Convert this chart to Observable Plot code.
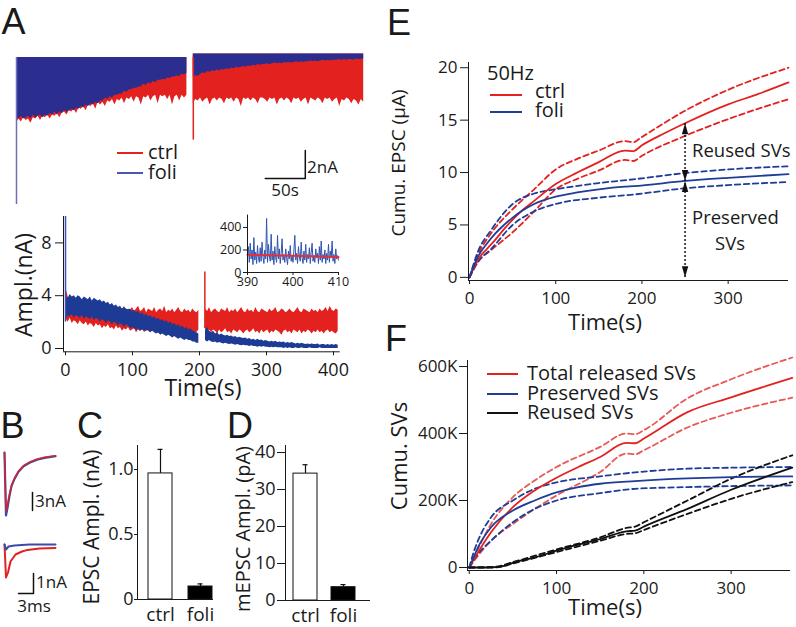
<!DOCTYPE html>
<html><head><meta charset="utf-8">
<script src="https://cdn.jsdelivr.net/npm/d3@7"></script>
<script src="https://cdn.jsdelivr.net/npm/@observablehq/plot@0.6"></script>
<style>
body{margin:0;background:#fff;}
#fig{position:relative;width:796px;height:627px;overflow:hidden;font-family:"Open Sans",sans-serif;color:#1a1a1a;background:#fff;}
.t{position:absolute;white-space:nowrap;line-height:0.8;}
</style></head><body><div id="fig"></div>
<script>
// ---------------- DATA ----------------
// Panel A (top): raw trace lower envelope (nA, downward); sampled every 3 s from the segment start
const aTopSeg1Start = 0, aTopSeg2Start = 221, aTopStep = 3;
const aTopCtrl1 = [4.7,4.4,4.6,4.3,4.5,4.4,4.7,4.3,4.4,4.2,4.5,4.2, 4.3,4.1,4.4,4.1,4.2,4.0,4.3,4.0,3.9,4.1,3.8,3.9, 3.7,4.0,3.6,3.7,3.5,3.8,3.4,3.5,3.3,3.7,3.2,3.4, 3.2,3.5,3.1,3.2,3.0,3.4,3.0,3.1,2.9,3.3,2.9,3.0, 2.8,3.2,2.8,2.9,3.4,2.8,2.9,2.7,3.1,2.8,2.7,3.3, 2.7,2.8,2.7,3.0,2.7,3.4,2.8,2.7,3.1,2.7,2.9,2.7];
const aTopCtrl2 = [3.3,3.0,3.1,2.9,3.2,3.0,2.9,3.4,3.0,2.9,3.1,2.9, 3.0,3.3,2.9,3.0,2.9,3.2,2.9,3.0,3.5,2.9,3.0,2.9, 3.1,2.9,3.0,3.3,2.9,2.9,3.0,3.2,2.9,3.0,2.9,3.4, 3.0,2.9,3.1,2.9,3.0,3.3,2.9,3.0,2.9,3.2,3.0,2.9, 3.4,2.9,3.0,3.1,2.9,3.0,3.3,2.9,3.0,2.9,3.2,3.0, 2.9,3.5,3.0,3.1,2.9,3.0,3.3,3.0,3.1,3.4,3.0,3.2];
const aTopFoli1 = [4.3,4.4,4.2,4.4,4.3,4.2,4.4,4.1,4.3,4.2,4.1,4.3, 4.1,4.2,4.0,4.1,3.9,4.1,3.9,4.0,3.8,3.9,3.8,3.7, 3.8,3.6,3.7,3.5,3.6,3.4,3.5,3.3,3.4,3.2,3.3,3.1, 3.1,2.9,3.0,2.8,2.9,2.7,2.7,2.6,2.6,2.4,2.5,2.3, 2.3,2.2,2.2,2.1,2.1,1.9,2.0,1.8,1.9,1.7,1.8,1.6, 1.65,1.55,1.6,1.45,1.5,1.4,1.4,1.3,1.35,1.2,1.25,1.15];
const aTopFoli2 = [1.4,1.3,1.35,1.2,1.1,1.15,1.0,1.05,0.95,1.0,0.9,0.95, 0.85,0.9,0.8,0.85,0.75,0.8,0.7,0.75,0.7,0.65,0.7,0.6, 0.65,0.55,0.6,0.5,0.55,0.5,0.5,0.45,0.5,0.45,0.4,0.45, 0.4,0.45,0.35,0.4,0.35,0.4,0.35,0.3,0.35,0.3,0.35,0.3, 0.3,0.25,0.3,0.25,0.3,0.25,0.2,0.25,0.2,0.25,0.2,0.2, 0.2,0.15,0.2,0.15,0.2,0.15,0.15,0.2,0.1,0.15,0.15,0.1];
const aTopBaseline = [0, 0.25];            // segment 1, segment 2
const aTopSpikes = [{t:0, amp:10.5, cond:"foli"}, {t:221, amp:5.9, cond:"ctrl"}];
const aScaleBar = {t0:311, dt:50, i0:-8.64, di:2};

// Panel A (bottom): amplitude band edges (nA), sampled every 3 s from the segment start
const ampSeg1Start = 1, ampSeg2Start = 209, ampStep = 3;
const ctrlLo1 = [2.2,2.0,2.3,1.9,2.1,2.0,1.8,2.1,1.9,1.8,2.0,1.7,1.9,1.8,1.6,1.9,1.7,1.8,1.5,1.7, 1.6,1.8,1.5,1.6,1.4,1.7,1.5,1.6,1.3,1.5,1.4,1.6,1.3,1.4,1.5,1.2,1.4,1.3,1.5,1.2, 1.4,1.3,1.2,1.5,1.3,1.4,1.1,1.3,1.4,1.2,1.3,1.5,1.2,1.3,1.1,1.4,1.3,1.2,1.4,1.3, 1.1,1.3,1.4,1.2,1.3,1.2,1.4];
const ctrlHi1 = [4.5,3.9,3.7,3.8,3.5,3.6,3.4,3.7,3.3,3.5,3.4,3.2,3.5,3.3,3.1,3.4,3.2,3.0,3.3,3.1, 3.2,2.9,3.1,3.0,3.2,2.8,3.0,3.1,2.9,3.2,2.8,3.0,2.9,3.1,2.8,3.0,3.2,2.8,2.9,3.1, 2.7,3.0,2.9,2.8,3.1,2.7,2.9,3.0,2.8,3.2,2.7,2.9,2.8,3.0,2.7,2.9,3.1,2.8,2.7,3.0, 2.8,2.9,2.7,3.0,2.8,2.7,2.9];
const ctrlLo2 = [1.5,1.3,1.4,1.2,1.4,1.3,1.1,1.4,1.2,1.3,1.5,1.2,1.3,1.1,1.4,1.3,1.2,1.4,1.3,1.1, 1.3,1.4,1.2,1.3,1.5,1.2,1.3,1.1,1.4,1.2,1.3,1.4,1.1,1.3,1.2,1.4,1.3,1.2,1.0,1.3, 1.4,1.2,1.3,1.1,1.4,1.3,1.2,1.4,1.1,1.3,1.2,1.4,1.3,1.1,1.3,1.2,1.4,1.2,1.3,1.1, 1.3,1.4,1.2,1.3,1.2,1.1,1.3];
const ctrlHi2 = [3.0,2.8,3.1,2.7,2.9,3.0,2.8,2.7,3.0,2.9,2.8,3.1,2.7,2.9,2.8,3.0,2.7,2.9,3.1,2.8, 2.7,3.0,2.8,2.9,2.7,3.1,2.8,2.7,3.0,2.9,2.8,2.7,3.0,2.8,2.9,3.1,2.7,2.8,3.0,2.9, 2.7,2.8,3.0,2.8,2.7,2.9,3.1,2.8,2.7,3.0,2.9,2.8,2.7,3.0,2.8,2.9,2.7,3.0,2.8,2.9, 3.1,2.8,3.2,2.9,2.8,3.0,2.9];
const foliLo1 = [2.2,2.5,2.4,2.6,2.3,2.5,2.4,2.3,2.5,2.2,2.4,2.3,2.2,2.4,2.1,2.3,2.2,2.0,2.2,2.1, 1.9,2.1,2.0,1.8,2.0,1.9,1.7,1.9,1.8,1.6,1.8,1.7,1.5,1.6,1.5,1.4,1.5,1.3,1.4,1.3, 1.3,1.4,1.2,1.3,1.2,1.1,1.2,1.0,1.1,1.0,0.9,1.0,0.9,0.8,0.9,0.8,0.7,0.8,0.7,0.6, 0.7,0.6,0.6,0.5,0.5,0.4,0.4];
const foliHi1 = [3.9,3.8,4.1,3.9,4.0,3.8,4.0,3.9,3.7,3.9,3.8,3.7,3.9,3.6,3.8,3.7,3.6,3.7,3.5,3.6, 3.4,3.5,3.3,3.4,3.2,3.3,3.1,3.2,3.0,3.1,3.0,2.9,3.0,2.8,2.9,2.7,2.8,2.6,2.7,2.5, 2.6,2.4,2.5,2.3,2.4,2.2,2.3,2.1,2.2,2.0,2.1,1.9,2.0,1.8,1.9,1.7,1.8,1.6,1.7,1.5, 1.6,1.4,1.5,1.3,1.3,1.2,1.1];
const foliLo2 = [0.6,0.5,0.6,0.5,0.45,0.5,0.4,0.45,0.4,0.35,0.4,0.35,0.3,0.35,0.3,0.25,0.3,0.25,0.2,0.25, 0.2,0.2,0.15,0.2,0.15,0.15,0.1,0.15,0.1,0.15,0.1,0.1,0.05,0.1,0.05,0.1,0.05,0.05,0.05,0.0, 0.05,0.0,0.05,0.0,0.0,0.05,0.0,0.0,0.05,0.0,0.0,0.0,0.05,0.0,0.0,0.0,0.0,0.05,0.0,0.0, 0.0,0.0,0.0,0.0,0.0,0.0,0.0];
const foliHi2 = [1.4,1.6,1.3,1.2,1.3,1.1,1.2,1.0,1.1,1.0,0.95,1.0,0.9,0.95,0.85,0.9,0.8,0.85,0.8,0.75, 0.8,0.7,0.75,0.65,0.7,0.6,0.7,0.6,0.65,0.55,0.6,0.55,0.5,0.55,0.5,0.55,0.45,0.5,0.45,0.5, 0.4,0.45,0.4,0.45,0.4,0.35,0.4,0.35,0.4,0.35,0.3,0.35,0.3,0.35,0.3,0.3,0.35,0.25,0.3,0.3, 0.25,0.3,0.25,0.3,0.25,0.3,0.25];
const ampSpikes = [{t:0, lo:2.0, hi:10, cond:"foli"}, {t:208, lo:1.5, hi:5.8, cond:"ctrl"}];

// Inset: 390–410 s (pA), evenly sampled
const insetFoli = [150,230,90,260,120,200,70,310,110,180,80,240,130,90,220,100,270,140,80,200,120,480,90,250,150,100,340,110,190,70,230,130,90,330,120,210,80,170,300,110,160,90,210,130,70,190,120,240,100,150,90,200,330,110,170,80,230,140,100,270,130,80,190,110,250,90,160,120,220,80,180,260,100,150,90,210,130,170,80,230,110,280,90,160,120,200,80,170,110,250,90,190,130,280,100,160,80,210,120,150,110];
const insetCtrl = [[390,158],[400,148],[410,138]];

// Panel B: EPSC traces [ms, nA]
const bTopFoli = [[0,0],[0.3,-10.5],[0.6,-9.2],[1.0,-7.2],[1.4,-5.6],[2.0,-4.4],[2.8,-3.2],[3.8,-2.3],[5,-1.7],[6.5,-1.2],[8,-0.9],[10.2,-0.6]];
const bTopCtrl = [[0,0],[0.3,-9.7],[0.6,-8.7],[1.0,-7.0],[1.4,-5.5],[2.0,-4.3],[2.8,-3.1],[3.8,-2.2],[5,-1.6],[6.5,-1.1],[8,-0.8],[10.2,-0.55]];
const bBotFoli = [[0,0],[0.3,-0.25],[0.8,-0.1],[2,-0.05],[5,0],[10.2,0]];
const bBotCtrl = [[0,0],[0.3,-1.65],[0.7,-1.4],[1.2,-0.85],[2.2,-0.5],[3.5,-0.35],[4.6,-0.27],[7,-0.2],[10.2,-0.17]];

// Panels C, D
const conds = ["ctrl", "foli"];
const epscMean = [0.97, 0.10];
const epscSem = [0.185, 0.02];
const mepscMean = [34.3, 3.6];
const mepscSem = [2.4, 0.7];

// Panel E: cumulative EPSC (µA) [s, value]
const eCtrl = [[0,0],[5,0.9],[10,1.7],[20,2.7],[30,3.6],[40,4.6],[50,5.5],[60,6.3],[75,7.3],[100,8.9],[125,10.0],[150,11.0],[180,12.1],[190,12.05],[200,12.6],[225,13.7],[250,14.7],[300,16.5],[335,17.5],[370,18.6]];
const eCtrlHi = [[0,0],[10,2.2],[25,4.2],[50,6.5],[75,8.4],[100,10.3],[125,11.3],[150,12.1],[180,13.0],[190,12.9],[200,13.4],[250,15.9],[300,17.9],[370,20.0]];
const eCtrlLo = [[0,0],[10,1.5],[25,2.6],[50,4.3],[75,6.3],[100,8.4],[125,9.4],[150,10.2],[180,11.2],[190,11.1],[200,11.6],[250,13.5],[300,15.1],[370,17.0]];
const eFoli = [[0,0],[5,1.1],[10,2.0],[20,3.2],[30,4.2],[40,5.0],[50,5.7],[60,6.3],[75,7.0],[100,7.7],[125,8.1],[150,8.4],[180,8.65],[190,8.7],[250,9.2],[300,9.5],[370,9.85]];
const eFoliHi = [[0,0],[10,2.5],[25,4.5],[50,7.0],[75,8.0],[100,8.4],[150,9.0],[190,9.35],[250,9.95],[300,10.3],[370,10.6]];
const eFoliLo = [[0,0],[10,1.5],[25,2.7],[50,5.0],[75,6.3],[100,7.0],[150,7.6],[190,7.9],[250,8.5],[300,8.8],[370,9.1]];
const eArrowT = 250;
const eArrowLevels = [14.7, 9.2, 0];

// Panel F: cumulative SVs (K) [s, value]
const fTotal = [[0,0],[10,45],[25,105],[50,180],[75,230],[100,268],[125,300],[150,330],[180,372],[190,371],[200,385],[250,464],[300,508],[370,566]];
const fTotalHi = [[0,0],[10,55],[25,130],[50,210],[75,260],[100,300],[150,360],[180,400],[190,398],[200,410],[250,505],[300,562],[370,627]];
const fTotalLo = [[0,0],[10,35],[25,80],[50,130],[75,175],[100,215],[150,285],[180,340],[190,338],[200,350],[250,418],[300,462],[370,507]];
const fPres = [[0,0],[5,30],[10,60],[25,120],[50,170],[75,200],[100,224],[125,240],[150,250],[190,258],[250,266],[300,270],[370,272]];
const fPresHi = [[0,0],[5,45],[10,80],[25,150],[50,200],[75,235],[100,254],[150,272],[190,284],[250,295],[300,298],[370,300]];
const fPresLo = [[0,0],[10,40],[25,80],[50,135],[75,175],[100,200],[150,222],[190,235],[250,240],[300,243],[370,245]];
const fReused = [[0,0],[20,0],[30,1],[40,5],[50,14],[75,30],[100,50],[125,68],[150,85],[180,108],[190,110],[200,122],[250,175],[300,232],[370,298]];
const fReusedHi = [[0,0],[30,2],[50,16],[100,54],[150,90],[180,118],[190,122],[200,135],[250,200],[300,265],[370,335]];
const fReusedLo = [[0,0],[30,0],[50,12],[100,46],[150,80],[180,100],[190,102],[200,112],[250,160],[300,205],[370,255]];

// ---------------- HELPERS ----------------
const RED = "#e3211f", BLUE = "#1f3c96", NAVY = "#2b2e8e", BLUE_B = "#3b4aa6", INK = "#1a1a1a";
const FONT = '"Open Sans", sans-serif';
const fig = document.getElementById("fig");
function place(svg, left, top) {
  const d = document.createElement("div");
  d.style.cssText = `position:absolute;left:${left}px;top:${top}px;`;
  d.appendChild(svg);
  fig.appendChild(d);
}
function label(s, x, y, size, opts = {}) {
  const d = document.createElement("div");
  d.className = "t";
  d.textContent = s;
  d.style.fontSize = size + "px";
  if (opts.family) d.style.fontFamily = opts.family;
  let tr = opts.anchor === "start" ? "translate(0,-50%)" : "translate(-50%,-50%)";
  if (opts.rotate) tr += " rotate(-90deg)";
  d.style.transform = tr;
  d.style.left = x + "px";
  d.style.top = y + "px";
  fig.appendChild(d);
}
function swatch(x1, x2, y, color, w = 2) {
  const d = document.createElement("div");
  d.style.cssText = `position:absolute;left:${x1}px;top:${y - w / 2}px;width:${x2 - x1}px;height:${w}px;background:${color};`;
  fig.appendChild(d);
}
const style = (fs) => ({fontFamily: FONT, fontSize: fs + "px", color: INK, background: "transparent", overflow: "visible"});
const pairs = (arr) => arr.map(([t, v]) => ({t, v}));

// ---------------- PANEL A TOP ----------------
{
  const seg = (vals, start, top, s) => vals.map((a, i) => ({t: start + i * aTopStep, top, low: -a, seg: s}));
  const ctrl = [...seg(aTopCtrl1, aTopSeg1Start, aTopBaseline[0], 1), ...seg(aTopCtrl2, aTopSeg2Start, aTopBaseline[1], 2)];
  const foli = [...seg(aTopFoli1, aTopSeg1Start, aTopBaseline[0], 1), ...seg(aTopFoli2, aTopSeg2Start, aTopBaseline[1], 2)];
  const sb = aScaleBar;
  const svg = Plot.plot({
    width: 380, height: 170, marginLeft: 16, marginRight: 16.8, marginTop: 5, marginBottom: 4,
    x: {domain: [0, 434], axis: null}, y: {domain: [-11, 0.5], axis: null},
    style: style(16),
    marks: [
      Plot.areaY(ctrl, {x: "t", y1: "top", y2: "low", z: "seg", fill: RED}),
      Plot.areaY(foli, {x: "t", y1: "top", y2: "low", z: "seg", fill: NAVY}),
      Plot.ruleX(aTopSpikes, {x: "t", y1: 0, y2: d => -d.amp, stroke: d => d.cond === "ctrl" ? RED : "#6f6fb8", strokeWidth: 1.5}),
      Plot.line([[sb.t0, sb.i0], [sb.t0 + sb.dt, sb.i0], [sb.t0 + sb.dt, sb.i0 + sb.di]], {stroke: "#111", strokeWidth: 1.5})
    ]
  });
  place(svg, 0, 45);
  swatch(117, 143, 153, RED, 1.5);
  swatch(117, 143, 173, "#4a57b0", 1.5);
  label("ctrl", 148, 152, 20, {anchor: "start"});
  label("foli", 148, 172, 20, {anchor: "start"});
  label("2nA", 307, 167, 17, {anchor: "start"});
  label("50s", 285, 190, 17);
}

// ---------------- PANEL A BOTTOM ----------------
{
  const seg = (lo, hi, start, s) => lo.map((l, i) => ({t: start + i * ampStep, lo: l, hi: hi[i], seg: s}));
  const ctrl = [...seg(ctrlLo1, ctrlHi1, ampSeg1Start, 1), ...seg(ctrlLo2, ctrlHi2, ampSeg2Start, 2)];
  const foli = [...seg(foliLo1, foliHi1, ampSeg1Start, 1), ...seg(foliLo2, foliHi2, ampSeg2Start, 2)];
  const svg = Plot.plot({
    width: 350, height: 175, marginLeft: 63, marginRight: 10.3, marginTop: 11, marginBottom: 28.7,
    x: {domain: [-3, 410]}, y: {domain: [-0.25, 10]},
    style: style(18),
    marks: [
      Plot.areaY(ctrl, {x: "t", y1: "lo", y2: "hi", z: "seg", fill: RED}),
      Plot.areaY(foli, {x: "t", y1: "lo", y2: "hi", z: "seg", fill: "#1d3a94"}),
      Plot.ruleX(ampSpikes, {x: "t", y1: "lo", y2: "hi", stroke: d => d.cond === "ctrl" ? RED : "#3f4fb0", strokeWidth: 1.5}),
      Plot.ruleX([-3], {stroke: INK, strokeWidth: 1}),
      Plot.ruleY([-0.25], {stroke: INK, strokeWidth: 1}),
      Plot.axisX({ticks: [0, 100, 200, 300, 400], tickSize: 4, tickPadding: 7, label: null}),
      Plot.axisY({ticks: [0, 4, 8], tickSize: 8, tickPadding: 4, label: null})
    ]
  });
  place(svg, 0, 205);
  label("Ampl.(nA)", 23, 285, 23, {rotate: true});
  label("Time(s)", 203, 387, 23);
}

// ---------------- INSET ----------------
{
  const foli = insetFoli.map((v, i) => ({t: 390 + i * 20 / (insetFoli.length - 1), v}));
  const svg = Plot.plot({
    width: 140, height: 80, marginLeft: 42, marginRight: 7, marginTop: 9.6, marginBottom: 13,
    x: {domain: [390, 410]}, y: {domain: [0, 510]},
    style: style(12.5),
    marks: [
      Plot.line(foli, {x: "t", y: "v", stroke: "#2f55b0", strokeWidth: 1}),
      Plot.line(insetCtrl, {stroke: "#e2303a", strokeWidth: 2}),
      Plot.ruleX([390], {stroke: INK}),
      Plot.ruleY([0], {stroke: INK}),
      Plot.axisX({ticks: [390, 400, 410], tickSize: 3, tickPadding: 2, label: null}),
      Plot.axisY({ticks: [0, 200, 400], tickSize: 4, tickPadding: 2, label: null})
    ]
  });
  place(svg, 205, 205);
}

// ---------------- PANEL B ----------------
{
  const top = Plot.plot({
    width: 70, height: 80, marginLeft: 4, marginRight: 11, marginTop: 6, marginBottom: 2,
    x: {domain: [0, 11], axis: null}, y: {domain: [-11, 1], axis: null},
    style: style(16),
    marks: [
      Plot.line(bTopFoli, {stroke: BLUE_B, strokeWidth: 2.2}),
      Plot.line(bTopCtrl, {stroke: RED, strokeWidth: 1.6, strokeOpacity: 0.85}),
      Plot.line([[5.6, -6.67], [5.6, -9.67]], {stroke: "#111", strokeWidth: 1.5})
    ]
  });
  place(top, 0, 440);
  const bot = Plot.plot({
    width: 70, height: 65, marginLeft: 4, marginRight: 11, marginTop: 3, marginBottom: 4,
    x: {domain: [0, 11], axis: null}, y: {domain: [-2.6, 0.3], axis: null},
    style: style(16),
    marks: [
      Plot.line(bBotCtrl, {stroke: RED, strokeWidth: 2}),
      Plot.line(bBotFoli, {stroke: BLUE_B, strokeWidth: 2}),
      Plot.line([[2.8, -2.45], [5.8, -2.45], [5.8, -1.45]], {stroke: "#111", strokeWidth: 1.5})
    ]
  });
  place(bot, 0, 535);
  label("3nA", 35, 501, 17, {anchor: "start"});
  label("1nA", 36, 582, 17, {anchor: "start"});
  label("3ms", 34, 606, 17);
}

// ---------------- PANELS C & D ----------------
function barPanel(means, sems, opts) {
  const data = conds.map((c, i) => ({cond: c, mean: means[i], sem: sems[i]}));
  return Plot.plot({
    width: opts.width, height: 180, marginLeft: opts.ml, marginRight: opts.mr, marginTop: 5, marginBottom: opts.mb,
    x: {domain: conds, paddingInner: opts.pi, paddingOuter: opts.po, align: opts.align},
    y: {domain: opts.ydomain},
    style: style(18),
    marks: [
      Plot.ruleX(data, {x: "cond", y1: "mean", y2: d => d.mean + d.sem, stroke: "#111", strokeWidth: 1.2}),
      Plot.tickY(data, {x: "cond", y: d => d.mean + d.sem, insetLeft: 9.5, insetRight: 9.5, stroke: "#111", strokeWidth: 1.2}),
      Plot.barY(data, {x: "cond", y: "mean", fill: d => d.cond === "ctrl" ? "white" : "black", stroke: "#111", strokeWidth: 1}),
      Plot.frame({anchor: "left", stroke: INK}),
      Plot.ruleY([0], {stroke: INK}),
      Plot.axisX({tickSize: 0, tickPadding: 8, fontSize: 19, label: null}),
      Plot.axisY({ticks: opts.ticks, tickFormat: opts.fmt, tickSize: opts.ts, tickPadding: opts.tp, label: null})
    ]
  });
}
place(barPanel(epscMean, epscSem, {width: 140, ml: 57, mr: 7, mb: 21, pi: 0.4, po: 0.15, align: 0.92, ydomain: [0, 1.185], ticks: [0, 0.5, 1.0], fmt: d => d === 0 ? "0" : d.toFixed(1), ts: 3, tp: 1}), 80, 440);
place(barPanel(mepscMean, mepscSem, {width: 145, ml: 55, mr: 5, mb: 20, pi: 0.368, po: 0.3, align: 0.35, ydomain: [0, 41.9], ticks: [0, 10, 20, 30, 40], fmt: d => String(d), ts: 8, tp: 2}), 230, 440);
label("EPSC Ampl. (nA)", 91, 527, 21, {rotate: true});
label("mEPSC Ampl. (pA)", 243, 529, 20, {rotate: true});

// ---------------- PANEL E ----------------
{
  const dash = "5.5,3.5";
  const triUp = {draw(ctx) { ctx.moveTo(0, 0); ctx.lineTo(-3.2, 11); ctx.lineTo(3.2, 11); ctx.closePath(); }};
  const triDown = {draw(ctx) { ctx.moveTo(0, 0); ctx.lineTo(-3.2, -11); ctx.lineTo(3.2, -11); ctx.closePath(); }};
  const [a0, a1, a2] = eArrowLevels;
  const ln = (arr, color, dashed) => Plot.line(pairs(arr), {x: "t", y: "v", stroke: color, strokeWidth: 1.8, strokeDasharray: dashed ? dash : null, curve: "monotone-x"});
  const svg = Plot.plot({
    width: 396, height: 270, marginLeft: 68, marginRight: 8, marginTop: 17, marginBottom: 35,
    x: {domain: [-1.2, 370]}, y: {domain: [-0.3, 20.5]},
    style: style(17),
    marks: [
      ln(eCtrlHi, RED, true), ln(eCtrlLo, RED, true),
      ln(eFoliHi, BLUE, true), ln(eFoliLo, BLUE, true),
      ln(eCtrl, RED, false), ln(eFoli, BLUE, false),
      Plot.ruleX([eArrowT], {y1: a2, y2: a0, stroke: "#111", strokeWidth: 2, strokeDasharray: "1.6,2.4"}),
      Plot.dot([[eArrowT, a0], [eArrowT, a1]], {symbol: triUp, fill: "#111", stroke: "none"}),
      Plot.dot([[eArrowT, a1], [eArrowT, a2]], {symbol: triDown, fill: "#111", stroke: "none"}),
      Plot.ruleX([-1.2], {stroke: INK}),
      Plot.ruleY([-0.3], {stroke: INK}),
      Plot.axisX({ticks: [0, 100, 200, 300], tickSize: 4, tickPadding: 7, label: null}),
      Plot.axisY({ticks: [0, 5, 10, 15, 20], tickSize: 8, tickPadding: 3, label: null})
    ]
  });
  place(svg, 400, 45);
  label("Cumu. EPSC (μA)", 399, 163, 19, {rotate: true});
  label("Time(s)", 605, 322, 22);
  label("50Hz", 487, 73, 20, {anchor: "start"});
  swatch(490, 522, 95, RED, 1.8);
  swatch(490, 522, 112, BLUE, 1.8);
  label("ctrl", 535, 91, 20, {anchor: "start"});
  label("foli", 535, 110, 20, {anchor: "start"});
  label("Reused SVs", 692, 150, 18.5, {anchor: "start"});
  label("Preserved", 692, 217, 18.5, {anchor: "start"});
  label("SVs", 730, 243, 18.5);
}

// ---------------- PANEL F ----------------
{
  const dash = "5.5,3.5";
  const k = arr => arr.map(([t, v]) => ({t, v: v * 1000}));
  const ln = (arr, color, dashed) => Plot.line(k(arr), {x: "t", y: "v", stroke: color, strokeWidth: 1.8, strokeDasharray: dashed ? dash : null, curve: "monotone-x"});
  const RED_L = "#e65a55";
  const svg = Plot.plot({
    width: 396, height: 277, marginLeft: 67, marginRight: 6, marginTop: 10, marginBottom: 57,
    x: {domain: [-2, 368]}, y: {domain: [-9000, 618000]},
    style: style(17),
    marks: [
      ln(fTotalHi, RED_L, true), ln(fTotalLo, RED_L, true),
      ln(fPresHi, BLUE, true), ln(fPresLo, BLUE, true),
      ln(fReusedHi, "#111", true), ln(fReusedLo, "#111", true),
      ln(fTotal, RED, false), ln(fPres, BLUE, false), ln(fReused, "#111", false),
      Plot.ruleX([-2], {stroke: INK}),
      Plot.ruleY([-9000], {stroke: INK}),
      Plot.axisX({ticks: [0, 100, 200, 300], tickSize: 4, tickPadding: 7, label: null}),
      Plot.axisY({ticks: [0, 200000, 400000, 600000], tickFormat: d => d === 0 ? "0" : (d / 1000) + "K", tickSize: 8, tickPadding: 2, label: null})
    ]
  });
  place(svg, 400, 350);
  label("Cumu. SVs", 399, 456, 22, {rotate: true});
  label("Time(s)", 605, 607, 22);
  swatch(487, 518, 374, RED, 1.8);
  swatch(487, 518, 394, BLUE, 1.8);
  swatch(487, 518, 413, "#111", 1.8);
  label("Total released SVs", 527, 373, 20, {anchor: "start"});
  label("Preserved SVs", 527, 393, 20, {anchor: "start"});
  label("Reused SVs", 527, 412, 20, {anchor: "start"});
}

// ---------------- PANEL LETTERS ----------------
const LET = '"Liberation Sans", Arial, sans-serif';
label("A", 13.5, 21.5, 36, {family: LET});
label("E", 399, 23, 36, {family: LET});
label("B", 12.5, 425.5, 36, {family: LET});
label("C", 90, 425.5, 36, {family: LET});
label("D", 240, 425.5, 36, {family: LET});
label("F", 396, 339, 36, {family: LET});
</script>
</body></html>
